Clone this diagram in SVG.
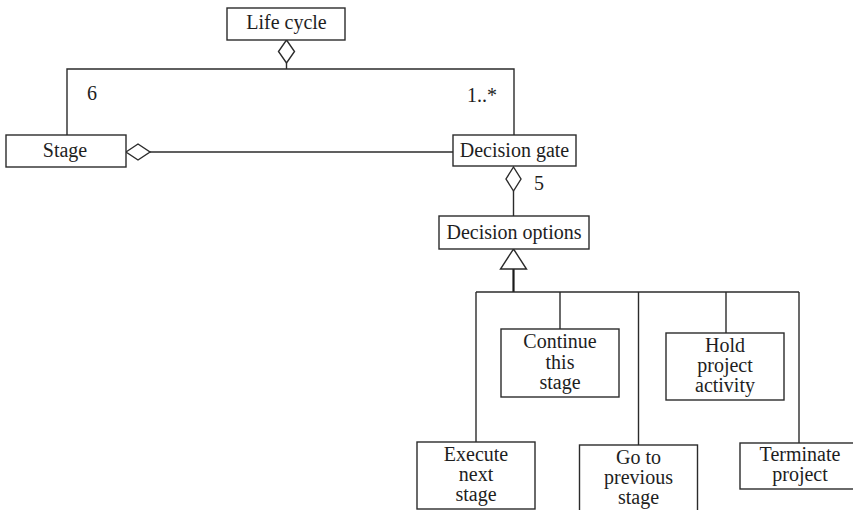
<svg xmlns="http://www.w3.org/2000/svg" width="853" height="510" viewBox="0 0 853 510">
  <style>
    .box { fill: #ffffff; stroke: #2b2b2b; stroke-width: 1.4; }
    .line { fill: none; stroke: #2b2b2b; stroke-width: 1.4; }
    .thick { fill: none; stroke: #1a1a1a; stroke-width: 2.2; }
    .agg { fill: #ffffff; stroke: #2b2b2b; stroke-width: 1.4; }
    text { font-family: 'Liberation Serif', 'Times New Roman', Tinos, 'DejaVu Serif', serif; font-size: 20px; fill: #1e1e1e; text-anchor: middle; }
    .mult { text-anchor: start; }
  </style>

  <!-- connectors -->
  <g id="connectors">
    <!-- Life cycle aggregates Stage and Decision gate -->
    <polyline class="line" points="286.5,63 286.5,69" />
    <polyline class="line" points="67,135 67,69 514,69 514,135" />
    <polygon class="agg" points="286.5,40 294.5,51.5 286.5,63 278.5,51.5" />
    <!-- Stage aggregates Decision gate -->
    <line class="line" x1="150" y1="152" x2="453" y2="152" />
    <polygon class="agg" points="126,152 138,144 150,152 138,160" />
    <!-- Decision gate aggregates Decision options -->
    <line class="line" x1="513.5" y1="191" x2="513.5" y2="216" />
    <polygon class="agg" points="513.5,167 521,179 513.5,191 506,179" />
    <!-- generalisation -->
    <line class="thick" x1="513.5" y1="269" x2="513.5" y2="292" />
    <polygon class="agg" points="513.5,249 526.5,269 500.5,269" />
    <line class="line" x1="476" y1="292" x2="799" y2="292" />
    <line class="line" x1="476" y1="292" x2="476" y2="442" />
    <line class="line" x1="560" y1="292" x2="560" y2="329" />
    <line class="line" x1="638.5" y1="292" x2="638.5" y2="445" />
    <line class="line" x1="726" y1="292" x2="726" y2="333" />
    <line class="line" x1="799" y1="292" x2="799" y2="443" />
    <!-- multiplicities -->
    <text class="mult" x="87" y="100" font-family="Liberation Serif, serif">6</text>
    <text class="mult" x="467" y="102" font-family="Liberation Serif, serif">1..*</text>
    <text class="mult" x="534" y="190" font-family="Liberation Serif, serif">5</text>
  </g>

  <g id="life-cycle">
    <rect class="box" x="227" y="8" width="118" height="32" />
    <text x="286.5" y="29">Life cycle</text>
  </g>

  <g id="stage">
    <rect class="box" x="6" y="135" width="120" height="32" />
    <text x="65" y="157">Stage</text>
  </g>

  <g id="decision-gate">
    <rect class="box" x="453" y="135" width="123" height="31" />
    <text x="514.5" y="157">Decision gate</text>
  </g>

  <g id="decision-options">
    <rect class="box" x="439" y="216" width="150" height="33" />
    <text x="514" y="239">Decision options</text>
  </g>

  <g id="continue-this-stage">
    <rect class="box" x="501" y="329" width="118" height="68" />
    <text x="560" y="348">Continue</text>
    <text x="560" y="369">this</text>
    <text x="560" y="389">stage</text>
  </g>

  <g id="hold-project-activity">
    <rect class="box" x="666" y="333" width="118" height="67" />
    <text x="725" y="352">Hold</text>
    <text x="725" y="372">project</text>
    <text x="725" y="392">activity</text>
  </g>

  <g id="execute-next-stage">
    <rect class="box" x="417" y="442" width="118" height="67" />
    <text x="476" y="461">Execute</text>
    <text x="476" y="481">next</text>
    <text x="476" y="501">stage</text>
  </g>

  <g id="go-to-previous-stage">
    <rect class="box" x="579.5" y="445" width="118" height="70" />
    <text x="638.5" y="464">Go to</text>
    <text x="638.5" y="484">previous</text>
    <text x="638.5" y="504">stage</text>
  </g>

  <g id="terminate-project">
    <rect class="box" x="740" y="443" width="118" height="46" />
    <text x="800" y="461">Terminate</text>
    <text x="800" y="481">project</text>
  </g>
</svg>
